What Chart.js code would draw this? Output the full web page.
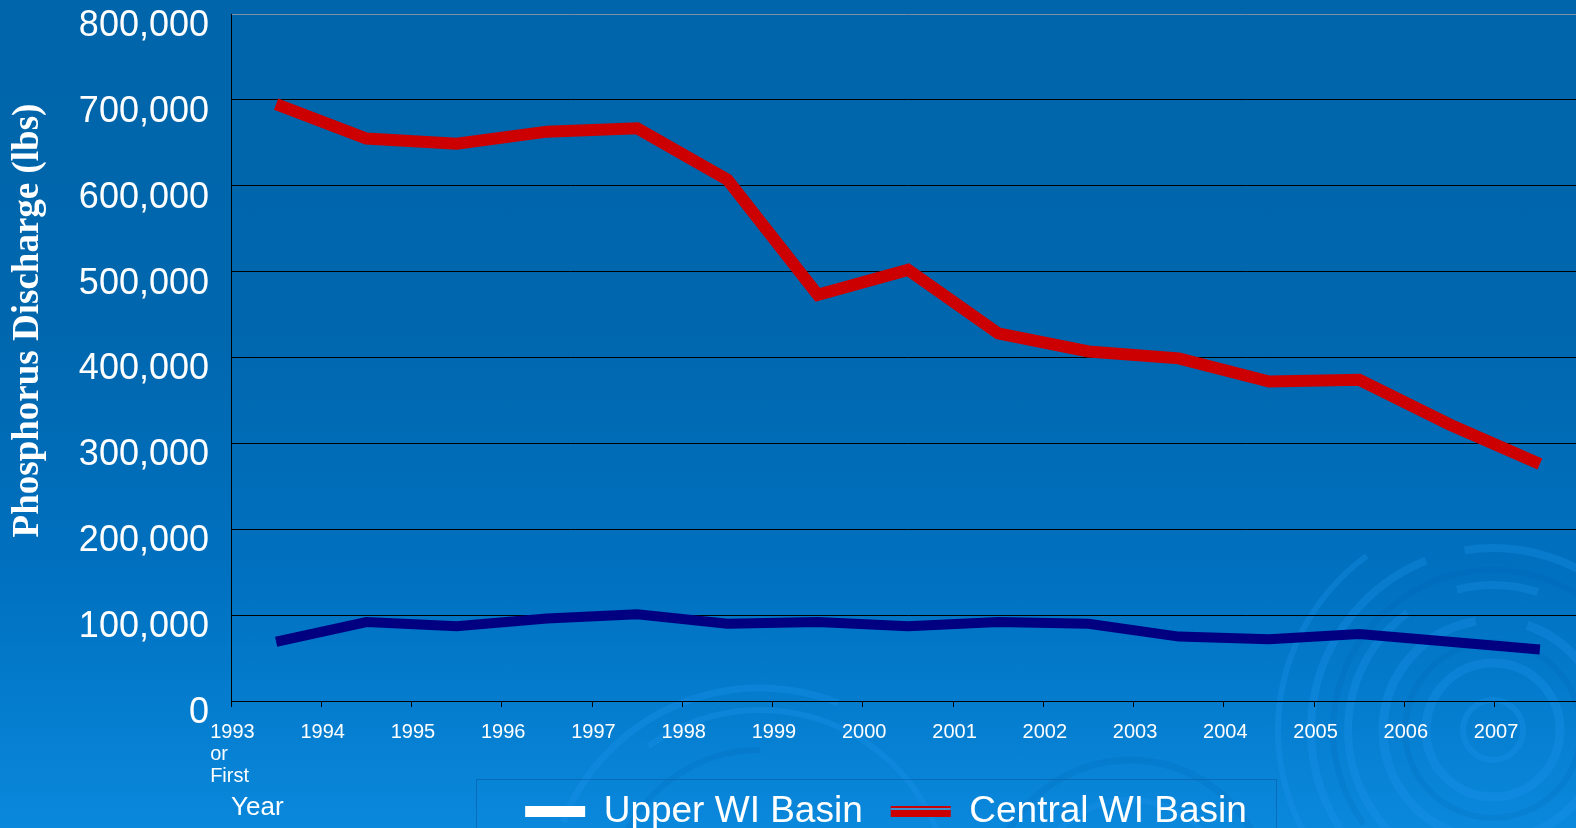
<!DOCTYPE html>
<html><head><meta charset="utf-8">
<script src="https://cdn.jsdelivr.net/npm/chart.js@4.4.1/dist/chart.umd.min.js"></script>
<style>
html,body{margin:0;padding:0;width:1576px;height:828px;overflow:hidden;}
body{background:linear-gradient(to bottom,#0065aa 0%,#0067ae 40%,#0071c0 70%,#0a88dc 100%);}
canvas{display:block;}
</style></head><body>
<canvas id="c" width="1590" height="894"></canvas>
<script>
const years = [["1993","or","First"],"1994","1995","1996","1997","1998","1999","2000","2001","2002","2003","2004","2005","2006","2007"];
const upperWI = [69000, 92000, 87000, 96000, 101000, 90000, 92000, 87000, 92000, 90000, 75000, 72000, 78000, 69000, 60000];
const centralWI = [695000, 655000, 649000, 663000, 667000, 607000, 473000, 502000, 428000, 407000, 399000, 372000, 374000, 322000, 276000];
const seriesNames = ["Upper WI Basin", "Central WI Basin"];
const lineColors = ["#000080", "#cc0000"];
const legendSwatches = ["#ffffff", "#cc0000"];
const yMin = 0, yMax = 800000, yStep = 100000;
const yTitle = "        Phosphorus Discharge (lbs)";
const xTitle = "Year";

const SANS = "'Liberation Sans', Arial, sans-serif";
const SERIF = "'Liberation Serif', 'Times New Roman', serif";

const swirls = {
  id: 'swirls',
  beforeDraw(chart) {
    const ctx = chart.ctx;
    ctx.save();
    ctx.lineCap = 'butt';
    const ring = (cx, cy, r, a0, a1, w, col) => {
      ctx.beginPath(); ctx.strokeStyle = col; ctx.lineWidth = w;
      ctx.arc(cx, cy, r, a0, a1); ctx.stroke();
    };
    const L = 'rgba(30,150,240,0.30)';
    const D = 'rgba(0,90,170,0.14)';
    // right swirl
    ring(1493, 730, 30, 0, Math.PI * 2, 6, L);
    ring(1493, 730, 67, 0, Math.PI * 2, 9, L);
    ring(1493, 730, 110, Math.PI * 0.55, Math.PI * 1.45, 9, L);
    ring(1493, 730, 110, Math.PI * 1.6, Math.PI * 2.4, 9, L);
    ring(1493, 730, 145, Math.PI * 0.7, Math.PI * 1.3, 8, L);
    ring(1493, 730, 145, Math.PI * 1.42, Math.PI * 1.6, 8, L);
    ring(1493, 730, 145, Math.PI * 1.72, Math.PI * 2.3, 8, L);
    ring(1493, 730, 182, Math.PI * 0.75, Math.PI * 1.38, 8, L);
    ring(1493, 730, 182, Math.PI * 1.45, Math.PI * 2.2, 8, L);
    ring(1493, 730, 215, Math.PI * 0.8, Math.PI * 1.3, 6, L);
    ring(1493, 730, 88, 0, Math.PI * 2, 6, D);
    ring(1493, 730, 160, Math.PI * 0.8, Math.PI * 1.9, 6, D);
    // middle swirl
    ring(760, 900, 212, Math.PI * 1.12, Math.PI * 1.62, 7, L);
    ring(760, 900, 190, Math.PI * 1.3, Math.PI * 1.9, 6, L);
    ring(760, 900, 150, Math.PI * 1.1, Math.PI * 1.5, 6, D);
    ring(1130, 900, 140, Math.PI * 1.1, Math.PI * 1.9, 7, D);
    ring(1130, 900, 100, Math.PI * 1.0, Math.PI * 2.0, 6, L);
    ctx.restore();
  }
};

const legendPlace = {
  id: 'legendPlace',
  afterLayout(chart) {
    const lg = chart.legend;
    if (!lg) return;
    const w = lg.width, h = lg.height;
    const cx = 886, top = 765;
    lg.left = cx - w / 2; lg.right = lg.left + w;
    lg.top = top; lg.bottom = top + h;
  }
};

const legendFrame = {
  id: 'legendFrame',
  afterDraw(chart) {
    const lg = chart.legend;
    const hb = lg && lg.legendHitBoxes;
    if (!hb || !hb.length) return;
    const ctx = chart.ctx;
    const first = hb[0], last = hb[hb.length - 1];
    const x0 = Math.round(first.left - 49), x1 = Math.round(last.left + last.width + 29);
    const y0 = Math.round(first.top - 14);
    ctx.save();
    ctx.strokeStyle = 'rgba(0,80,150,0.45)';
    ctx.lineWidth = 1;
    ctx.strokeRect(x0 + 0.5, y0 + 0.5, x1 - x0, 200);
    // double-line look of the second swatch
    const b = hb[1];
    const by = b.top + (37 - 11) / 2;
    ctx.fillStyle = '#3f8fcc';
    ctx.fillRect(b.left, by + 2, 60, 2);
    ctx.restore();
  }
};

new Chart(document.getElementById('c'), {
  type: 'line',
  data: {
    labels: years,
    datasets: [
      { label: seriesNames[0], data: upperWI, borderColor: lineColors[0], backgroundColor: lineColors[0], borderWidth: 10, pointRadius: 0, tension: 0, borderCapStyle: 'butt', borderJoinStyle: 'miter', fill: false },
      { label: seriesNames[1], data: centralWI, borderColor: lineColors[1], backgroundColor: lineColors[1], borderWidth: 12, pointRadius: 0, tension: 0, borderCapStyle: 'butt', borderJoinStyle: 'miter', fill: false }
    ]
  },
  options: {
    responsive: false,
    animation: false,
    devicePixelRatio: 1,
    layout: { padding: { top: 0, left: 0, right: 5, bottom: 0 } },
    plugins: {
      tooltip: { enabled: false },
      legend: {
        position: 'bottom',
        fullSize: false,
        labels: {
          color: '#ffffff',
          font: { family: SANS, size: 37 },
          boxWidth: 60,
          boxHeight: 11,
          padding: 28,
          generateLabels(chart) {
            return chart.data.datasets.map((ds, i) => ({
              text: ds.label, fillStyle: legendSwatches[i], strokeStyle: legendSwatches[i],
              lineWidth: 0, hidden: false, datasetIndex: i, fontColor: '#ffffff'
            }));
          }
        }
      }
    },
    scales: {
      x: {
        type: 'category',
        offset: true,
        afterFit(s) { s.height = 118; s.paddingLeft = 0; s.paddingRight = 0; },
        grid: { display: true, drawOnChartArea: false, drawTicks: true, tickLength: 6, color: '#000000', offset: true },
        border: { display: true, color: '#000000', width: 1 },
        ticks: {
          color: '#ffffff', font: { family: SANS, size: 20, lineHeight: 1.1 },
          align: 'start', labelOffset: -66, padding: 14,
          autoSkip: false, maxRotation: 0, minRotation: 0
        },
        title: { display: true, text: xTitle, align: 'start', color: '#ffffff', font: { family: SANS, size: 26 }, padding: { top: 0, bottom: -4 } }
      },
      y: {
        min: yMin, max: yMax,
        afterFit(s) { s.width = 231; s.paddingTop = 14; s.paddingBottom = 0; },
        grid: { color: (c) => (c.tick && c.tick.value === yMax) ? '#7d8fa3' : '#000000', lineWidth: 1, drawTicks: false },
        border: { display: true, color: '#000000', width: 1 },
        ticks: {
          stepSize: yStep, color: '#ffffff', font: { family: SANS, size: 36 }, padding: 22, labelOffset: 12,
          callback: (v) => Number(v).toLocaleString('en-US')
        },
        title: { display: true, text: yTitle, color: '#ffffff', font: { family: SERIF, size: 37, weight: 'bold' }, padding: { top: 6, bottom: 0 } }
      }
    }
  },
  plugins: [swirls, legendPlace, legendFrame]
});
</script>
</body></html>
